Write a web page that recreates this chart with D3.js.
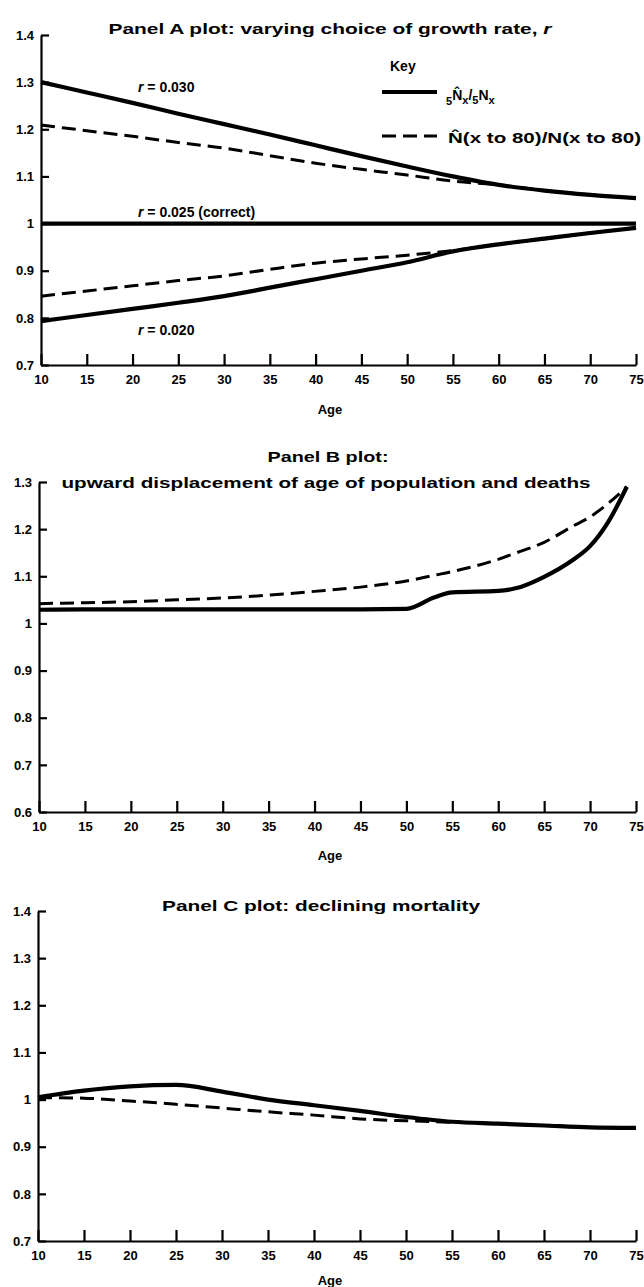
<!DOCTYPE html>
<html>
<head>
<meta charset="utf-8">
<script src="https://cdn.jsdelivr.net/npm/d3@7"></script>
<style>
  html, body { margin: 0; padding: 0; background: #fff; }
  svg { display: block; }
  text { font-family: "Liberation Sans", Arial, sans-serif; font-weight: bold; fill: #000; }
</style>
</head>
<body>
<svg id="chart" width="644" height="1287"></svg>
<script>
// ---------- data ----------
const ages = [10, 15, 20, 25, 30, 35, 40, 45, 50, 55, 60, 65, 70, 75];
const xTicks = [10, 15, 20, 25, 30, 35, 40, 45, 50, 55, 60, 65, 70, 75];

// Panel A
const a030Solid = [1.300, 1.278, 1.256, 1.233, 1.211, 1.189, 1.166, 1.143, 1.121, 1.100, 1.082, 1.070, 1.061, 1.054];
const a030Dash  = [1.209, 1.197, 1.185, 1.172, 1.160, 1.144, 1.128, 1.115, 1.103, 1.090, 1.082, 1.070, 1.061, 1.054];
const a025Solid = [1, 1, 1, 1, 1, 1, 1, 1, 1, 1, 1, 1, 1, 1];
const a025Dash  = [1, 1, 1, 1, 1, 1, 1, 1, 1, 1, 1, 1, 1, 1];
const a020Solid = [0.793, 0.806, 0.819, 0.832, 0.846, 0.864, 0.882, 0.900, 0.918, 0.941, 0.956, 0.968, 0.980, 0.991];
const a020Dash  = [0.846, 0.857, 0.868, 0.879, 0.889, 0.903, 0.916, 0.925, 0.933, 0.943, 0.956, 0.968, 0.980, 0.991];
const aTicks = [0.7, 0.8, 0.9, 1.0, 1.1, 1.2, 1.3, 1.4];
const aLabels = ["r = 0.030", "r = 0.025 (correct)", "r = 0.020"];
const aLabelValues = [1.290, 1.025, 0.775];

// Panel B
const bAges  = [10, 15, 20, 25, 30, 35, 40, 45, 50, 53, 55, 60, 62, 65, 68, 70, 72, 74];
const bSolid = [1.029, 1.030, 1.030, 1.030, 1.030, 1.030, 1.030, 1.030, 1.031, 1.055, 1.066, 1.069, 1.075, 1.099, 1.133, 1.164, 1.216, 1.290];
const bDash  = [1.042, 1.044, 1.046, 1.050, 1.054, 1.060, 1.068, 1.077, 1.090, 1.102, 1.110, 1.136, 1.150, 1.172, 1.205, 1.226, 1.255, 1.290];
const bTicks = [0.6, 0.7, 0.8, 0.9, 1.0, 1.1, 1.2, 1.3];

// Panel C
const cSolid = [1.005, 1.019, 1.028, 1.031, 1.017, 1.000, 0.988, 0.976, 0.963, 0.953, 0.949, 0.945, 0.941, 0.940];
const cDash  = [1.004, 1.003, 0.997, 0.990, 0.982, 0.974, 0.967, 0.959, 0.955, 0.952, 0.949, 0.945, 0.941, 0.940];
const cTicks = [0.7, 0.8, 0.9, 1.0, 1.1, 1.2, 1.3, 1.4];

const legendLabels = ["Key", "5N̂x/5Nx", "N̂(x to 80)/N(x to 80)"];

// ---------- drawing ----------
const svg = d3.select("#chart");
const fmt = d => (d === 1 ? "1" : d3.format(".1f")(d));

function panel(cfg) {
  const x = d3.scaleLinear().domain([10, 75]).range([cfg.left, 636]);
  const y = d3.scaleLinear().domain(cfg.yDomain).range([cfg.bottom, cfg.top]);
  const g = svg.append("g");

  const xa = g.append("g").attr("transform", `translate(0,${cfg.bottom})`)
    .call(d3.axisBottom(x).tickValues(xTicks).tickFormat(d3.format("d"))
      .tickSizeInner(-11).tickSizeOuter(0).tickPadding(10));
  const ya = g.append("g").attr("transform", `translate(${cfg.left},0)`)
    .call(d3.axisLeft(y).tickValues(cfg.yTicks).tickFormat(fmt)
      .tickSizeInner(-8).tickSizeOuter(0).tickPadding(7));
  [xa, ya].forEach(a => {
    a.select(".domain").attr("stroke", "#000").attr("stroke-width", 2.2);
    a.selectAll(".tick line").attr("stroke", "#000").attr("stroke-width", 2.2);
    a.selectAll(".tick text").style("font-size", "13px").style("font-weight", "bold")
      .style("font-family", '"Liberation Sans", Arial, sans-serif').attr("fill", "#000");
  });

  const line = d3.line().x(d => x(d[0])).y(d => y(d[1])).curve(d3.curveMonotoneX);
  cfg.series.forEach(s => {
    g.append("path")
      .datum(s.ax.map((a, i) => [a, s.v[i]]))
      .attr("fill", "none")
      .attr("stroke", "#000")
      .attr("stroke-width", s.dash ? 3 : 4.2)
      .attr("stroke-dasharray", s.dash ? "14,7" : null)
      .attr("d", line);
  });

  g.append("text").attr("x", 330).attr("y", cfg.ageY).attr("text-anchor", "middle")
    .style("font-size", "13px").text("Age");
  return { x, y, g };
}

// Panel A
const A = panel({
  left: 41, top: 35, bottom: 365, yDomain: [0.7, 1.4], yTicks: aTicks, ageY: 414,
  series: [
    { ax: ages, v: a030Solid }, { ax: ages, v: a030Dash, dash: true },
    { ax: ages, v: a025Solid }, { ax: ages, v: a025Dash, dash: true },
    { ax: ages, v: a020Solid }, { ax: ages, v: a020Dash, dash: true }
  ]
});
svg.append("text").attr("x", 330).attr("y", 34).attr("text-anchor", "middle")
  .style("font-size", "15px").attr("textLength", 443).attr("lengthAdjust", "spacingAndGlyphs")
  .call(t => {
    t.append("tspan").text("Panel A plot: varying choice of growth rate, ");
    t.append("tspan").style("font-style", "italic").text("r");
  });
aLabels.forEach((lab, i) => {
  const t = A.g.append("text").attr("x", 138).attr("y", A.y(aLabelValues[i]) + 5)
    .style("font-size", "14px");
  t.append("tspan").style("font-style", "italic").text(lab.slice(0, 1));
  t.append("tspan").text(lab.slice(1));
});

// Legend
svg.append("text").attr("x", 390).attr("y", 71).style("font-size", "14px").text(legendLabels[0]);
svg.append("line").attr("x1", 382).attr("x2", 437).attr("y1", 92).attr("y2", 92)
  .attr("stroke", "#000").attr("stroke-width", 4.2);
svg.append("line").attr("x1", 382).attr("x2", 437).attr("y1", 136).attr("y2", 136)
  .attr("stroke", "#000").attr("stroke-width", 3).attr("stroke-dasharray", "14,7");
(() => {
  const s = legendLabels[1]; // 5N̂x/5Nx
  const t = svg.append("text").attr("x", 446).attr("y", 100).style("font-size", "14px");
  t.append("tspan").attr("dy", 5).style("font-size", "11px").text(s[0]);
  t.append("tspan").attr("dy", -5).text(s.slice(1, 3));
  t.append("tspan").attr("dy", 4).style("font-size", "11px").text(s[3]);
  t.append("tspan").attr("dy", -4).text(s[4]);
  t.append("tspan").attr("dy", 4).style("font-size", "11px").text(s[5]);
  t.append("tspan").attr("dy", -4).text(s[6]);
  t.append("tspan").attr("dy", 4).style("font-size", "11px").text(s[7]);
})();
svg.append("text").attr("x", 448).attr("y", 143).style("font-size", "14px")
  .attr("textLength", 193).attr("lengthAdjust", "spacingAndGlyphs").text(legendLabels[2]);

// Panel B
panel({
  left: 39, top: 482, bottom: 812, yDomain: [0.6, 1.3], yTicks: bTicks, ageY: 860,
  series: [{ ax: bAges, v: bSolid }, { ax: bAges, v: bDash, dash: true }]
});
svg.append("text").attr("x", 328).attr("y", 462).attr("text-anchor", "middle")
  .style("font-size", "15px").attr("textLength", 121).attr("lengthAdjust", "spacingAndGlyphs")
  .text("Panel B plot:");
svg.append("text").attr("x", 326).attr("y", 488).attr("text-anchor", "middle")
  .style("font-size", "15px").attr("textLength", 529).attr("lengthAdjust", "spacingAndGlyphs")
  .text("upward displacement of age of population and deaths");

// Panel C
panel({
  left: 38, top: 911, bottom: 1241, yDomain: [0.7, 1.4], yTicks: cTicks, ageY: 1285,
  series: [{ ax: ages, v: cSolid }, { ax: ages, v: cDash, dash: true }]
});
svg.append("text").attr("x", 321).attr("y", 911).attr("text-anchor", "middle")
  .style("font-size", "15px").attr("textLength", 318).attr("lengthAdjust", "spacingAndGlyphs")
  .text("Panel C plot: declining mortality");
</script>
</body>
</html>
